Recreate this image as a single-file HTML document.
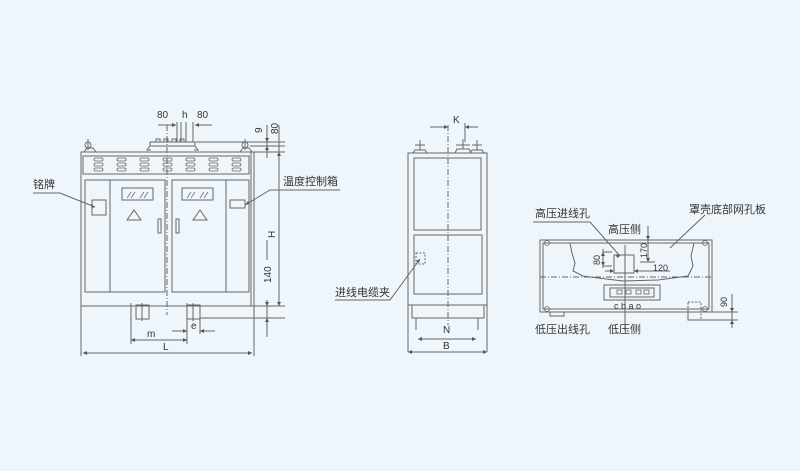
<!DOCTYPE html>
<html><head><meta charset="utf-8"><style>
html,body{margin:0;padding:0;background:#eef6fc;}
svg{display:block}
text{font-family:"Liberation Sans","Noto Sans CJK SC",sans-serif;fill:#333;}
</style></head><body>
<svg width="800" height="471" viewBox="0 0 800 471" xmlns="http://www.w3.org/2000/svg">
<rect width="800" height="471" fill="#eef6fc"/>
<g fill="none" stroke="#666" stroke-width="1">
<!-- FRONT VIEW -->
<rect x="81" y="152" width="173" height="154"/>
<line x1="251" y1="152" x2="251" y2="306"/>
<rect x="83" y="156" width="166" height="18"/>
<g stroke-width="0.8">
<g id="sl"><rect x="94" y="158" width="9" height="3" rx="1.5"/><rect x="94" y="163" width="9" height="3" rx="1.5"/><rect x="94" y="168" width="9" height="3" rx="1.5"/></g>
<use href="#sl" x="23"/><use href="#sl" x="46"/><use href="#sl" x="69"/><use href="#sl" x="92"/><use href="#sl" x="115"/><use href="#sl" x="138"/>
</g>
<rect x="85" y="180" width="80" height="112"/><line x1="110" y1="180" x2="110" y2="292"/>
<rect x="172" y="180" width="77" height="112"/><line x1="226" y1="180" x2="226" y2="292"/>
<rect x="122" y="188" width="31" height="12"/><rect x="182" y="188" width="31" height="12"/>
<path d="M127 198l4-6M131 198l4-6M140 198l4-6M144 198l4-6M187 198l4-6M191 198l4-6M200 198l4-6M204 198l4-6" stroke-width="0.7"/>
<path d="M127 220l7-10 7 10z M193 220l7-10 7 10z"/>
<rect x="158" y="219" width="3" height="14"/><rect x="176" y="219" width="3" height="14"/>
<rect x="92" y="200" width="14" height="15"/><rect x="230" y="200" width="15" height="8"/>
<line x1="81" y1="306" x2="81" y2="356"/><line x1="254" y1="306" x2="254" y2="356"/>
<rect x="136" y="305" width="13" height="14"/><line x1="142" y1="303" x2="142" y2="321"/>
<rect x="187" y="305" width="13" height="14"/><line x1="193" y1="303" x2="193" y2="321"/>
<line x1="131" y1="303" x2="131" y2="344"/><line x1="187" y1="303" x2="187" y2="344"/>
<line x1="200" y1="319" x2="200" y2="334"/>
<line x1="167" y1="125" x2="167" y2="315" stroke-dasharray="6,2,1,2"/>
<!-- top parts -->
<path d="M84 152l3-4h6l3 4"/><circle cx="88" cy="145" r="3"/><line x1="88" y1="139" x2="88" y2="150"/>
<path d="M240 152l3-4h6l3 4"/><circle cx="245" cy="145" r="3"/><line x1="245" y1="139" x2="245" y2="150"/>
<rect x="150" y="142" width="45" height="4"/><rect x="156" y="139" width="4" height="3"/><rect x="164" y="139" width="4" height="3"/><rect x="172" y="139" width="4" height="3"/><rect x="180" y="139" width="4" height="3"/>
<path d="M150 146l-3 4h4M195 146l3 4h-4"/>
<!-- dims front -->
<line x1="158" y1="125" x2="176" y2="125"/><line x1="195" y1="125" x2="212" y2="125"/>
<line x1="177" y1="122" x2="177" y2="142"/><line x1="181" y1="122" x2="181" y2="142"/><line x1="186" y1="122" x2="186" y2="142"/><line x1="193" y1="122" x2="193" y2="142"/>
<line x1="196" y1="142" x2="285" y2="142"/><line x1="250" y1="146" x2="285" y2="146"/><line x1="254" y1="152" x2="285" y2="152"/>
<line x1="267" y1="125" x2="267" y2="158"/><line x1="279" y1="125" x2="279" y2="306"/>
<line x1="254" y1="306" x2="285" y2="306"/><line x1="200" y1="318" x2="285" y2="318"/>
<line x1="267" y1="300" x2="267" y2="337"/><line x1="267" y1="240" x2="267" y2="260"/>
<line x1="131" y1="340" x2="187" y2="340"/><line x1="172" y1="331" x2="187" y2="331"/><line x1="200" y1="331" x2="215" y2="331"/>
<line x1="83" y1="353" x2="252" y2="353"/>
<!-- leaders -->
<polyline points="33,193 60,193 95,207"/><polyline points="340,190 270,190 245,205"/>
<!-- SIDE VIEW -->
<rect x="408" y="153" width="79" height="152"/>
<rect x="414" y="158" width="67" height="72"/><rect x="414" y="235" width="68" height="59"/>
<rect x="412" y="305" width="72" height="13"/>
<line x1="416" y1="318" x2="416" y2="330"/><line x1="478" y1="318" x2="478" y2="330"/>
<line x1="408" y1="305" x2="408" y2="352"/><line x1="487" y1="305" x2="487" y2="352"/>
<line x1="448" y1="125" x2="448" y2="325" stroke-dasharray="6,2,1,2"/>
<rect x="416" y="253" width="9" height="11" stroke-dasharray="2,1.5"/>
<polyline points="335,300 390,300 420,259"/>
<path d="M413 153l2-3h10l2 3M420 150v-10M415 145h10"/>
<path d="M470 153l2-3h10l2 3M477 150v-10M472 145h10"/>
<path d="M455 153l2-4h12l2 4M463 149v-10M456 145h14"/>
<line x1="430" y1="127" x2="448" y2="127"/><line x1="465" y1="127" x2="478" y2="127"/><line x1="465" y1="123" x2="465" y2="142"/>
<line x1="418" y1="339" x2="476" y2="339"/><line x1="408" y1="352" x2="487" y2="352"/>
<!-- BOTTOM VIEW -->
<rect x="540" y="240" width="172" height="72"/><rect x="543" y="243" width="166" height="66"/>
<line x1="540" y1="277" x2="712" y2="277" stroke-dasharray="6,2,1,2"/>
<line x1="625" y1="245" x2="625" y2="330"/>
<path d="M570 243l2 10 3 10-2 8 10 5 15 2 25 3 35-1 30-4 5-10-2-10 3-13"/>
<rect x="614" y="255" width="20" height="18"/>
<line x1="603" y1="249" x2="603" y2="268"/><line x1="603" y1="252" x2="612" y2="252"/><line x1="603" y1="266" x2="612" y2="266"/>
<line x1="605" y1="271" x2="614" y2="271"/><line x1="634" y1="271" x2="670" y2="271"/>
<line x1="648" y1="226" x2="648" y2="262"/><line x1="640" y1="262" x2="655" y2="262"/>
<rect x="604" y="285" width="56" height="15"/><rect x="610" y="288" width="44" height="9"/>
<g stroke-width="0.8"><rect x="617" y="290" width="5" height="4"/><rect x="626" y="290" width="5" height="4"/><rect x="636" y="290" width="5" height="4"/><rect x="644" y="290" width="5" height="4"/></g>
<rect x="688" y="302" width="13" height="18" stroke-dasharray="2,1.5"/>
<polyline points="688,312 688,320 705,320"/>
<rect x="550" y="312" width="14" height="4"/>
<line x1="712" y1="312" x2="738" y2="312"/><line x1="705" y1="320" x2="738" y2="320"/>
<line x1="732" y1="294" x2="732" y2="328"/>
<polyline points="533,222 590,222 620,256"/><line x1="670" y1="248" x2="705" y2="215"/>
<g stroke-width="0.8"><circle cx="547" cy="243" r="2.5"/><circle cx="705" cy="243" r="2.5"/><circle cx="547" cy="309" r="2.5"/><circle cx="705" cy="309" r="2.5"/></g>
</g>
<g fill="#555">
<path d="M176 125l-4-2v4zM195 125l4-2v4zM131 340l4-2v4zM187 340l-4-2v4zM187 331l-4-2v4zM200 331l4-2v4zM83 353l4-2v4zM252 353l-4-2v4zM279 152l-2 4h4zM279 306l-2-4h4zM267 306l-2-4h4zM267 318l-2 4h4zM267 142l-2-4h4zM267 146l-2 4h4z"/>
<path d="M448 127l-4-2v4zM465 127l4-2v4zM418 339l4-2v4zM476 339l-4-2v4zM408 352l4-2v4zM487 352l-4-2v4z"/>
<path d="M95 207l-4-3 1 4zM245 205l3-4 1 3zM420 259l-4 2 3 2zM620 256l-4-2 1 4z"/>
<path d="M732 312l-2-4h4zM732 320l-2 4h4zM648 240l-2-4h4zM648 262l-2-4h4zM603 252l-2 4h4zM603 266l-2-4h4zM614 271l-4-2v4zM634 271l4-2v4z"/>
</g>
<g font-size="10">
<text x="157" y="118">80</text><text x="182" y="118">h</text><text x="197" y="118">80</text>
<text x="33" y="188" font-size="11">铭牌</text>
<text x="283" y="185" font-size="11">温度控制箱</text>
<text x="147" y="337">m</text><text x="191" y="329">e</text><text x="163" y="350">L</text>
<text x="0" y="0" transform="translate(275,238) rotate(-90)">H</text>
<text x="0" y="0" transform="translate(271,283) rotate(-90)">140</text>
<text x="0" y="0" transform="translate(262,133) rotate(-90)">9</text>
<text x="0" y="0" transform="translate(278,134) rotate(-90)">80</text>
<text x="453" y="123">K</text><text x="443" y="333">N</text><text x="443" y="349">B</text>
<text x="335" y="296" font-size="11">进线电缆夹</text>
<text x="535" y="217" font-size="11">高压进线孔</text>
<text x="608" y="233" font-size="11">高压侧</text>
<text x="689" y="213" font-size="11">罩壳底部网孔板</text>
<text x="535" y="333" font-size="11">低压出线孔</text>
<text x="608" y="333" font-size="11">低压侧</text>
<text x="653" y="271" font-size="9">120</text>
<text x="0" y="0" font-size="9" transform="translate(600,265) rotate(-90)">80</text>
<text x="0" y="0" font-size="9" transform="translate(647,258) rotate(-90)">170</text>
<text x="0" y="0" font-size="9" transform="translate(727,307) rotate(-90)">90</text>
<text x="614" y="309" font-size="9">c  b a o</text>
</g>
</svg>
</body></html>
